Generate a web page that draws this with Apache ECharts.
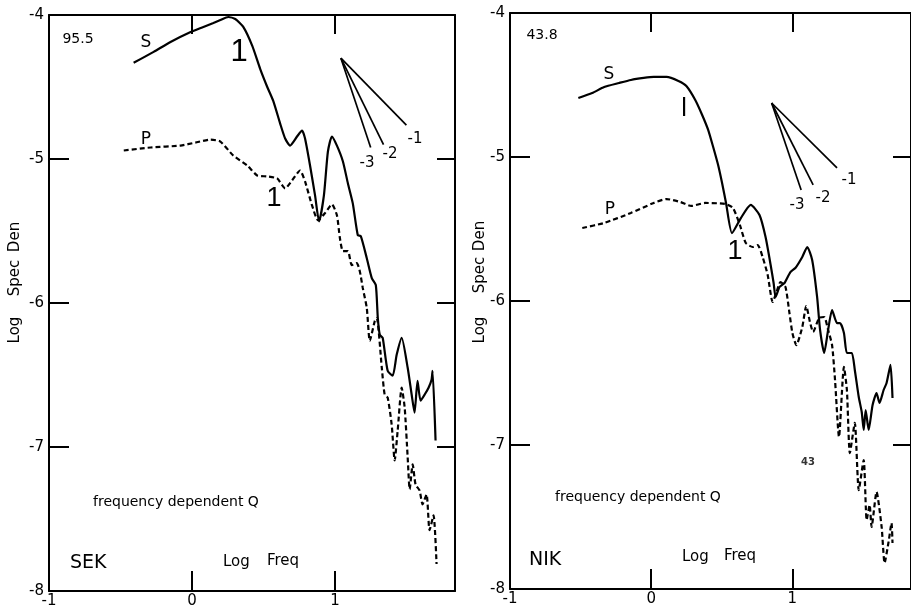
<!DOCTYPE html>
<html>
<head>
<meta charset="utf-8">
<script src="https://cdn.jsdelivr.net/npm/echarts@6/dist/echarts.min.js"></script>
<style>html,body{margin:0;padding:0;background:#fff;}#c{width:911px;height:609px;}</style>
</head>
<body>
<div id="c"></div>
<script>
// ---- Data (Log Freq, Log Spec Den) ----
const sekS = [[-0.408,-4.332],[-0.268,-4.256],[-0.150,-4.187],[-0.024,-4.125],[0.080,-4.083],[0.150,-4.055],[0.199,-4.035],[0.254,-4.014],[0.303,-4.028],[0.359,-4.083],[0.422,-4.215],[0.477,-4.374],[0.526,-4.498],[0.568,-4.595],[0.617,-4.754],[0.652,-4.858],[0.686,-4.907],[0.735,-4.844],[0.770,-4.803],[0.791,-4.858],[0.826,-5.045],[0.861,-5.253],[0.889,-5.433],[0.923,-5.253],[0.951,-4.948],[0.979,-4.844],[1.014,-4.907],[1.056,-5.017],[1.091,-5.170],[1.125,-5.308],[1.160,-5.529],[1.181,-5.536],[1.223,-5.689],[1.258,-5.827],[1.286,-5.875],[1.300,-6.104],[1.314,-6.221],[1.334,-6.242],[1.369,-6.471],[1.404,-6.505],[1.432,-6.360],[1.467,-6.242],[1.509,-6.450],[1.537,-6.637],[1.557,-6.761],[1.578,-6.540],[1.599,-6.678],[1.627,-6.637],[1.655,-6.588],[1.676,-6.533],[1.683,-6.471],[1.704,-6.955]];
const sekP = [[-0.477,-4.941],[-0.289,-4.920],[-0.080,-4.907],[0.024,-4.886],[0.129,-4.865],[0.199,-4.879],[0.289,-4.976],[0.387,-5.045],[0.456,-5.114],[0.526,-5.121],[0.596,-5.135],[0.652,-5.204],[0.700,-5.149],[0.756,-5.080],[0.791,-5.156],[0.840,-5.322],[0.882,-5.426],[0.930,-5.377],[0.979,-5.315],[1.014,-5.391],[1.035,-5.550],[1.056,-5.640],[1.091,-5.640],[1.118,-5.737],[1.153,-5.723],[1.174,-5.779],[1.195,-5.896],[1.223,-6.035],[1.244,-6.263],[1.279,-6.125],[1.293,-6.104],[1.328,-6.450],[1.348,-6.637],[1.369,-6.657],[1.397,-6.844],[1.418,-7.093],[1.439,-6.886],[1.467,-6.588],[1.488,-6.727],[1.509,-7.073],[1.523,-7.294],[1.544,-7.121],[1.564,-7.260],[1.592,-7.301],[1.613,-7.398],[1.641,-7.329],[1.662,-7.578],[1.690,-7.474],[1.711,-7.813]];
const nikS = [[-0.516,-4.590],[-0.418,-4.556],[-0.333,-4.514],[-0.228,-4.486],[-0.144,-4.465],[-0.053,-4.451],[0.018,-4.444],[0.109,-4.444],[0.193,-4.472],[0.249,-4.507],[0.312,-4.604],[0.361,-4.708],[0.404,-4.813],[0.439,-4.931],[0.474,-5.056],[0.502,-5.181],[0.530,-5.319],[0.572,-5.528],[0.635,-5.424],[0.705,-5.333],[0.767,-5.403],[0.810,-5.556],[0.846,-5.750],[0.867,-5.875],[0.881,-5.972],[0.909,-5.903],[0.944,-5.875],[0.986,-5.799],[1.021,-5.771],[1.070,-5.694],[1.105,-5.625],[1.140,-5.715],[1.175,-5.972],[1.196,-6.201],[1.225,-6.361],[1.253,-6.201],[1.281,-6.063],[1.316,-6.153],[1.337,-6.153],[1.365,-6.222],[1.386,-6.361],[1.421,-6.361],[1.442,-6.479],[1.470,-6.667],[1.491,-6.771],[1.505,-6.896],[1.519,-6.757],[1.540,-6.896],[1.568,-6.722],[1.596,-6.639],[1.617,-6.708],[1.646,-6.618],[1.667,-6.569],[1.695,-6.444],[1.709,-6.674]];
const nikP = [[-0.488,-5.493],[-0.333,-5.458],[-0.144,-5.389],[0.018,-5.319],[0.109,-5.292],[0.207,-5.313],[0.284,-5.340],[0.382,-5.319],[0.523,-5.326],[0.579,-5.354],[0.628,-5.472],[0.670,-5.597],[0.719,-5.625],[0.754,-5.611],[0.789,-5.694],[0.825,-5.819],[0.860,-6.007],[0.881,-5.958],[0.916,-5.868],[0.951,-5.903],[0.979,-6.083],[1.000,-6.222],[1.028,-6.306],[1.070,-6.181],[1.098,-6.035],[1.126,-6.153],[1.147,-6.215],[1.189,-6.118],[1.225,-6.111],[1.253,-6.201],[1.281,-6.306],[1.302,-6.549],[1.330,-6.944],[1.365,-6.458],[1.386,-6.618],[1.407,-7.056],[1.442,-6.847],[1.470,-7.313],[1.505,-7.104],[1.526,-7.521],[1.547,-7.417],[1.561,-7.569],[1.596,-7.326],[1.632,-7.569],[1.653,-7.819],[1.681,-7.674],[1.702,-7.542],[1.709,-7.681]];
// slope reference fans: apex and ends for slopes -1, -2, -3
const sekFanApex = [1.042, -4.30];
const sekFanEnds = [[1.50,-4.765],[1.34,-4.90],[1.25,-4.92]];
const nikFanApex = [0.853, -4.625];
const nikFanEnds = [[1.316,-5.076],[1.147,-5.194],[1.062,-5.229]];
const fanLabels = ['-1','-2','-3'];
// axes
const xTickLabels = [-1, 0, 1];
const xInnerTicks = [0, 1];
const yTickLabels = [-4, -5, -6, -7, -8];
const yInnerTicks = [-5, -6, -7];
const panelTitles = ['SEK', 'NIK'];
const panelDistances = ['95.5', '43.8'];

const FONT = '"DejaVu Sans", sans-serif';
const chart = echarts.init(document.getElementById('c'), null, {renderer: 'canvas'});

const grids = [
  {left: 49, top: 15, width: 406, height: 578},
  {left: 510, top: 13, width: 405, height: 576}
];

function xAxes(gi) {
  return [
    {gridIndex: gi, type: 'value', position: 'bottom', min: -1, max: 1.84,
     axisLine: {show: true, onZero: false, lineStyle: {color: '#000', width: 2}},
     axisTick: {show: true, inside: true, length: 20, customValues: xInnerTicks, lineStyle: {color: '#000', width: 2}},
     axisLabel: {show: true, customValues: xTickLabels, margin: 3, color: '#000', fontFamily: FONT, fontSize: 15},
     splitLine: {show: false}},
    {gridIndex: gi, type: 'value', position: 'top', min: -1, max: 1.84,
     axisLine: {show: true, onZero: false, lineStyle: {color: '#000', width: 2}},
     axisTick: {show: true, inside: true, length: 19, customValues: xInnerTicks, lineStyle: {color: '#000', width: 2}},
     axisLabel: {show: false}, splitLine: {show: false}}
  ];
}
function yAxes(gi) {
  return [
    {gridIndex: gi, type: 'value', position: 'left', min: -8, max: -4,
     axisLine: {show: true, onZero: false, lineStyle: {color: '#000', width: 2}},
     axisTick: {show: true, inside: true, length: 20, customValues: yInnerTicks, lineStyle: {color: '#000', width: 2}},
     axisLabel: {show: true, customValues: yTickLabels, margin: 5, color: '#000', fontFamily: FONT, fontSize: 15},
     splitLine: {show: false}},
    {gridIndex: gi, type: 'value', position: 'right', min: -8, max: -4,
     axisLine: {show: true, onZero: false, lineStyle: {color: '#000', width: 2}},
     axisTick: {show: true, inside: true, length: 18, customValues: yInnerTicks, lineStyle: {color: '#000', width: 2}},
     axisLabel: {show: false}, splitLine: {show: false}}
  ];
}

function curve(data, xi, yi, dashed) {
  return {type: 'line', xAxisIndex: xi, yAxisIndex: yi, data: data, showSymbol: false, smooth: 0.2,
    lineStyle: {color: '#000', width: 2.2, type: dashed ? [5, 3] : 'solid'}, silent: true, z: 3};
}
function fan(apex, ends, xi, yi) {
  return ends.map(e => ({type: 'line', xAxisIndex: xi, yAxisIndex: yi, data: [apex, e], showSymbol: false,
    lineStyle: {color: '#000', width: 1.7}, silent: true}));
}

function txt(x, y, s, size, opts) {
  opts = opts || {};
  return {type: 'text', x: x, y: y, rotation: opts.rot || 0, silent: true, z: 10,
    style: {text: s, x: 0, y: 0, fill: opts.color || '#000',
      font: (opts.weight || 'normal') + ' ' + size + 'px ' + (opts.family || FONT),
      align: opts.align || 'center', verticalAlign: 'middle'}};
}
const MARK = '"Liberation Sans", sans-serif';
const R = Math.PI / 2;

const graphics = [
  // left panel
  txt(78, 39, panelDistances[0], 14),
  txt(146, 43, 'S', 17),
  txt(146, 140, 'P', 17),
  txt(239, 52, '1', 31, {family: MARK}),
  txt(274, 199, '1', 27, {family: MARK}),
  txt(415, 139, fanLabels[0], 15),
  txt(390, 154, fanLabels[1], 15),
  txt(367, 163, fanLabels[2], 15),
  txt(93, 502, 'frequency dependent Q', 14, {align: 'left'}),
  txt(70, 563, panelTitles[0], 19, {align: 'left'}),
  txt(223, 562, 'Log', 15, {align: 'left'}),
  txt(267, 561, 'Freq', 15, {align: 'left'}),
  txt(15, 237, 'Den', 15, {rot: R}),
  txt(15, 278, 'Spec', 15, {rot: R}),
  txt(15, 330, 'Log', 15, {rot: R}),
  // right panel
  txt(542, 35, panelDistances[1], 14),
  txt(609, 75, 'S', 17),
  txt(610, 210, 'P', 17),
  txt(684, 110, 'l', 24),
  txt(735, 252, '1', 27, {family: MARK}),
  txt(849, 180, fanLabels[0], 15),
  txt(823, 198, fanLabels[1], 15),
  txt(797, 205, fanLabels[2], 15),
  txt(555, 497, 'frequency dependent Q', 14, {align: 'left'}),
  txt(529, 560, panelTitles[1], 19, {align: 'left'}),
  txt(682, 557, 'Log', 15, {align: 'left'}),
  txt(724, 556, 'Freq', 15, {align: 'left'}),
  txt(480, 236, 'Den', 15, {rot: R}),
  txt(480, 275, 'Spec', 15, {rot: R}),
  txt(480, 330, 'Log', 15, {rot: R}),
  txt(808, 462, '43', 10, {weight: 'bold', color: '#333'})
];

const option = {
  backgroundColor: '#fff',
  animation: false,
  grid: grids,
  xAxis: [...xAxes(0), ...xAxes(1)],
  yAxis: [...yAxes(0), ...yAxes(1)],
  series: [
    curve(sekS, 0, 0, false),
    curve(sekP, 0, 0, true),
    ...fan(sekFanApex, sekFanEnds, 0, 0),
    curve(nikS, 2, 2, false),
    curve(nikP, 2, 2, true),
    ...fan(nikFanApex, nikFanEnds, 2, 2)
  ],
  graphic: graphics
};
chart.setOption(option);
</script>
</body>
</html>
